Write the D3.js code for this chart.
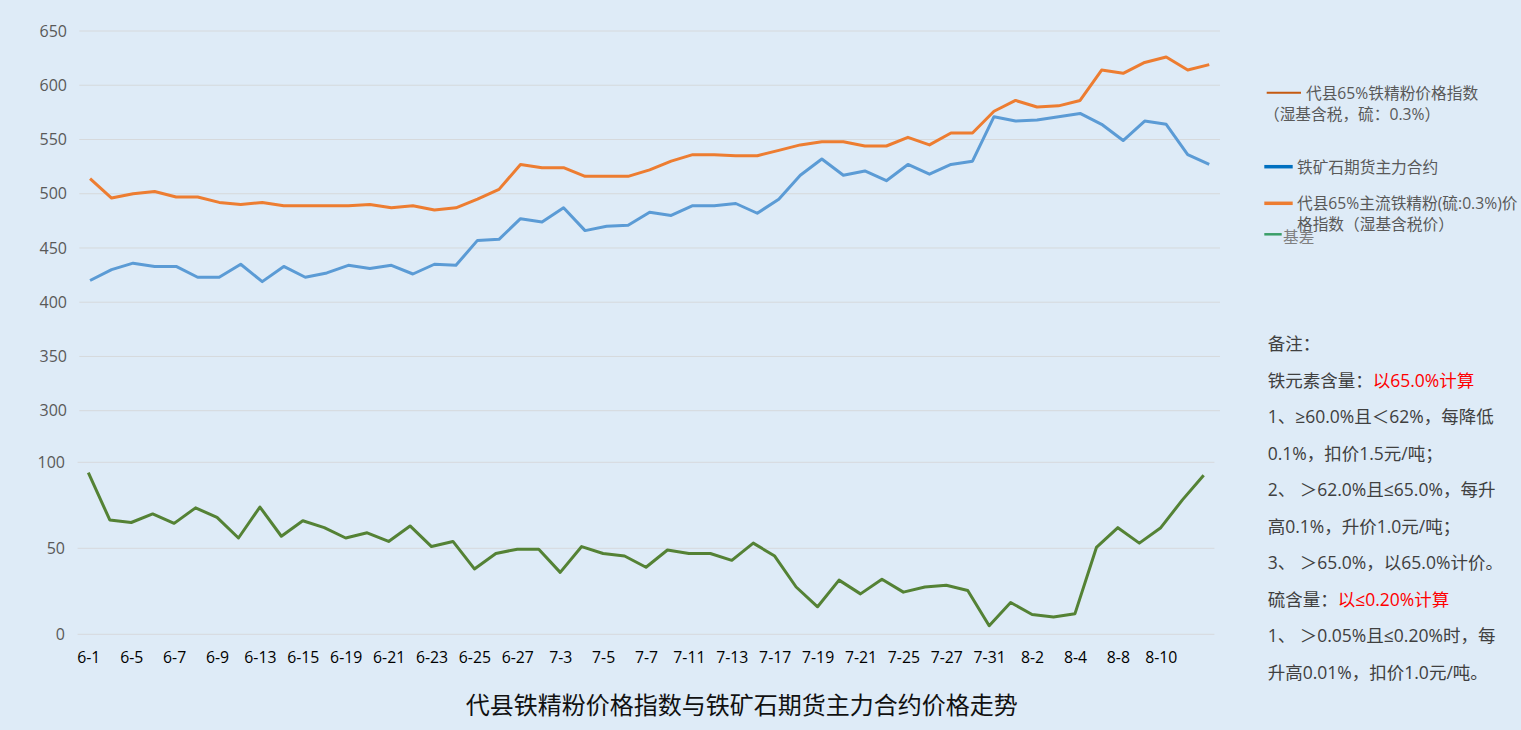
<!DOCTYPE html>
<html>
<head>
<meta charset="utf-8">
<script src="https://cdn.jsdelivr.net/npm/d3@7/dist/d3.min.js"></script>
<style>
  html, body { margin: 0; padding: 0; background: #DEEBF7; }
  svg { display: block; }
</style>
</head>
<body>
<svg id="chart" width="1521" height="730"></svg>
<script>
// ---------- DATA ----------
const categories = ["6-1","6-2","6-5","6-6","6-7","6-8","6-9","6-12","6-13","6-14","6-15","6-16","6-19","6-20","6-21","6-22","6-23","6-24","6-25","6-26","6-27","6-28","7-3","7-4","7-5","7-6","7-7","7-10","7-11","7-12","7-13","7-14","7-17","7-18","7-19","7-20","7-21","7-24","7-25","7-26","7-27","7-28","7-31","8-1","8-2","8-3","8-4","8-7","8-8","8-9","8-10","8-11","8-14"];

// x-axis labels that the chart shows
const xTickLabels = ["6-1","6-5","6-7","6-9","6-13","6-15","6-19","6-21","6-23","6-25","6-27","7-3","7-5","7-7","7-11","7-13","7-17","7-19","7-21","7-25","7-27","7-31","8-2","8-4","8-8","8-10"];

// 代县65%主流铁精粉(硫:0.3%)价格指数（湿基含税价）
const daixianIndex = [514,496,500,502,497,497,492,490,492,489,489,489,489,490,487,489,485,487,495,504,527,524,524,516,516,516,522,530,536,536,535,535,540,545,548,548,544,544,552,545,556,556,576,586,580,581,586,614,611,621,626,614,619];

// 铁矿石期货主力合约
const futuresMain = [420,430,436,433,433,423,423,435,419,433,423,427,434,431,434,426,435,434,457,458,477,474,487,466,470,471,483,480,489,489,491,482,495,517,532,517,521,512,527,518,527,530,571,567,568,571,574,564,549,567,564,536,527];

// 基差
const basis = [94,66.5,65,70,64.5,73.5,68,56,74,57,66,62,56,59,54,63,51,54,38,47,49.5,49.5,36,51,47,45.5,39,49,47,47,43,53,45.5,27.5,16,31.5,23.5,32,24.5,27.5,28.5,25.5,5,18.5,11.5,10,12,50.5,62,53,62,78,92.5];

const upperTicks = [300,350,400,450,500,550,600,650];
const lowerTicks = [0,50,100];

const legendLabels = [
  ["代县65%铁精粉价格指数", "（湿基含税，硫：0.3%）"],
  ["铁矿石期货主力合约"],
  ["代县65%主流铁精粉(硫:0.3%)价", "格指数（湿基含税价）"],
  ["基差"]
];

const noteLines = [
  [["备注：", false]],
  [["铁元素含量：", false], ["以65.0%计算", true]],
  [["1、≥60.0%且＜62%，每降低", false]],
  [["0.1%，扣价1.5元/吨；", false]],
  [["2、 ＞62.0%且≤65.0%，每升", false]],
  [["高0.1%，升价1.0元/吨；", false]],
  [["3、 ＞65.0%，以65.0%计价。", false]],
  [["硫含量：", false], ["以≤0.20%计算", true]],
  [["1、 ＞0.05%且≤0.20%时，每", false]],
  [["升高0.01%，扣价1.0元/吨。", false]]
];

const titleText = "代县铁精粉价格指数与铁矿石期货主力合约价格走势";

// ---------- DRAW ----------
const svg = d3.select("#chart");
const CJK = "'Noto Sans CJK SC', 'Noto Sans', sans-serif";
const LAT = "'Open Sans', 'Noto Sans CJK SC', sans-serif";

svg.append("rect").attr("width",1521).attr("height",730).attr("fill","#DEEBF7");

// Upper chart
const xU = d3.scalePoint().domain(categories).range([79.3, 1220]).padding(0.5);
const yU = d3.scaleLinear().domain([300, 650]).range([410.7, 31]);

const gU = svg.append("g");
gU.selectAll("line.grid").data(upperTicks).join("line")
  .attr("x1", 79.3).attr("x2", 1220)
  .attr("y1", d => yU(d)).attr("y2", d => yU(d))
  .attr("stroke", "#D6D9DC").attr("stroke-width", 1);

const yAxisU = d3.axisLeft(yU).tickValues(upperTicks).tickSize(0).tickPadding(0);
gU.append("g").attr("transform","translate(67,0)").call(yAxisU)
  .call(g => g.select(".domain").remove())
  .selectAll("text").attr("font-family", LAT).attr("font-size", 16).attr("fill", "#595959");

const lineU = d3.line().x((d,i) => xU(categories[i])).y(d => yU(d));
gU.append("path").datum(futuresMain).attr("d", lineU)
  .attr("fill","none").attr("stroke","#5B9BD5").attr("stroke-width",3).attr("stroke-linejoin","round");
gU.append("path").datum(daixianIndex).attr("d", lineU)
  .attr("fill","none").attr("stroke","#ED7D31").attr("stroke-width",3).attr("stroke-linejoin","round");

// Lower chart
const xL = d3.scalePoint().domain(categories).range([77.6, 1214.4]).padding(0.5);
const yL = d3.scaleLinear().domain([0, 100]).range([634.3, 462.3]);

const gL = svg.append("g");
gL.selectAll("line.grid").data(lowerTicks).join("line")
  .attr("x1", 77.6).attr("x2", 1214.4)
  .attr("y1", d => yL(d)).attr("y2", d => yL(d))
  .attr("stroke", "#D6D9DC").attr("stroke-width", 1);

const yAxisL = d3.axisLeft(yL).tickValues(lowerTicks).tickSize(0).tickPadding(0);
gL.append("g").attr("transform","translate(65,0)").call(yAxisL)
  .call(g => g.select(".domain").remove())
  .selectAll("text").attr("font-family", LAT).attr("font-size", 16).attr("fill", "#595959");

const xAxisL = d3.axisBottom(xL).tickValues(xTickLabels).tickSize(0).tickPadding(0);
gL.append("g").attr("transform","translate(0,658)").call(xAxisL)
  .call(g => g.select(".domain").remove())
  .selectAll("text").attr("font-family", LAT).attr("font-size", 15.8).attr("fill", "#000")
  .attr("dy", "0.32em");

const lineL = d3.line().x((d,i) => xL(categories[i])).y(d => yL(d));
gL.append("path").datum(basis).attr("d", lineL)
  .attr("fill","none").attr("stroke","#548235").attr("stroke-width",3).attr("stroke-linejoin","round");

// Title
svg.append("text").attr("x", 741.7).attr("y", 703).attr("text-anchor","middle")
  .attr("dominant-baseline","central")
  .attr("font-family", CJK).attr("font-size", 24).attr("fill", "#111")
  .text(titleText);

// Legend
const legendSpec = [
  { color:"#C55A11", w:2,   x1:1266.7, x2:1301, y:92.7, lines:[[1306,93],[1264,113.5]], fill:"#595959" },
  { color:"#0070C0", w:3.5, x1:1264.3, x2:1292.7, y:166.7, lines:[[1297,166.7]], fill:"#595959" },
  { color:"#ED7D31", w:3.5, x1:1264.3, x2:1292.7, y:203.3, lines:[[1297,203],[1297,224]], fill:"#595959" },
  { color:"#3A9E68", w:2.5, x1:1264.3, x2:1281.7, y:234.3, lines:[[1283,236.7]], fill:"#7F7F7F" }
];
const gLeg = svg.append("g");
legendSpec.forEach((s, k) => {
  gLeg.append("line").attr("x1", s.x1).attr("x2", s.x2).attr("y1", s.y).attr("y2", s.y)
    .attr("stroke", s.color).attr("stroke-width", s.w);
  legendLabels[k].forEach((t, j) => {
    gLeg.append("text").attr("x", s.lines[j][0]).attr("y", s.lines[j][1])
      .attr("dominant-baseline","central")
      .attr("font-family", LAT).attr("font-size", 15.7).attr("fill", s.fill).text(t);
  });
});

// Notes
const gN = svg.append("g");
noteLines.forEach((parts, i) => {
  const t = gN.append("text").attr("x", 1267.7).attr("y", 343.3 + i * 36.48)
    .attr("dominant-baseline","central")
    .attr("font-family", LAT).attr("font-size", 17.5).attr("fill", "#404040");
  parts.forEach(p => t.append("tspan").attr("fill", p[1] ? "#FF0000" : "#404040").text(p[0]));
});
</script>
</body>
</html>
